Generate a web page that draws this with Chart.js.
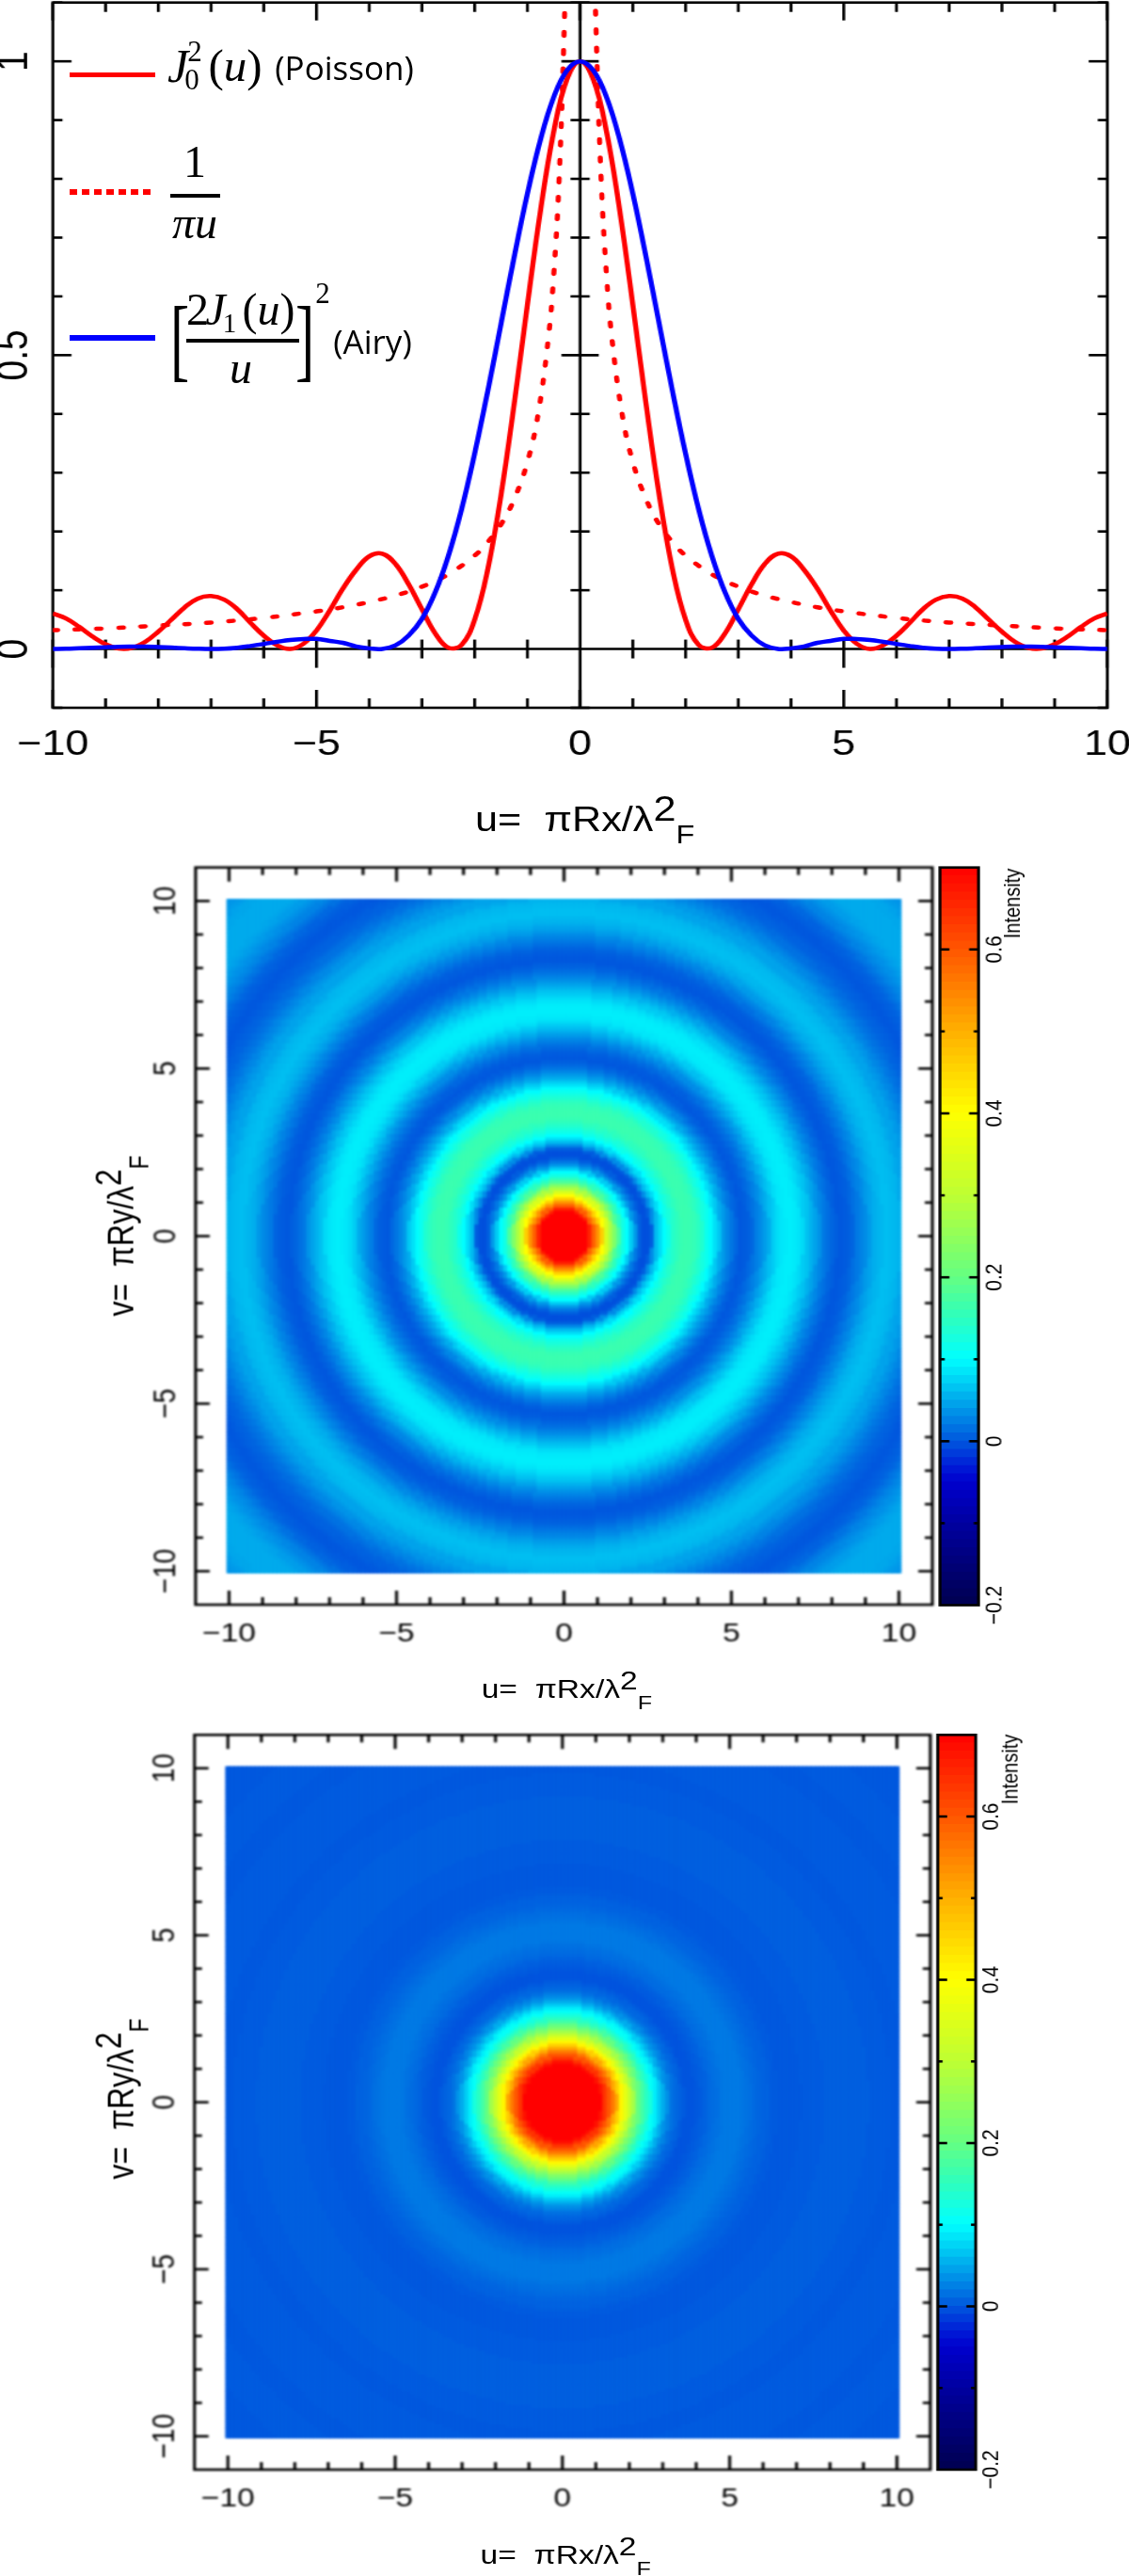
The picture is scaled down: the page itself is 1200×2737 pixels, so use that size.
<!DOCTYPE html>
<html>
<head>
<meta charset="utf-8">
<title>Poisson and Airy diffraction patterns</title>
<script src="https://cdn.jsdelivr.net/npm/chart.js@4"></script>
<style>
html,body{margin:0;padding:0;background:#fff;width:1200px;height:2737px;overflow:hidden}
#stage{position:absolute;left:0;top:0;width:1000px;height:2737px;transform:scaleX(1.2);transform-origin:0 0;overflow:visible;filter:blur(0.55px)}
#legend{position:absolute;left:0;top:0;width:1200px;height:500px;pointer-events:none;filter:blur(0.55px)}
canvas{position:absolute;display:block}
#poissonMap,#airyMap{filter:blur(0.8px)}
.t{position:absolute;white-space:pre;line-height:1;color:#000;font-family:"Liberation Sans",sans-serif}
.m{font-family:"Liberation Serif",serif}
.r{position:relative}
</style>
</head>
<body>
<div id="stage">
  <canvas id="profile"></canvas>
  <canvas id="poissonMap"></canvas>
  <canvas id="poissonBar"></canvas>
  <canvas id="airyMap"></canvas>
  <canvas id="airyBar"></canvas>
</div>
<div id="legend"></div>
<script>
// ---------- data ----------
const uGrid = [-10,-9.75,-9.5,-9.25,-9,-8.75,-8.5,-8.25,-8,-7.75,-7.5,-7.25,-7,-6.75,-6.5,-6.25,-6,-5.75,-5.5,-5.25,-5,-4.75,-4.5,-4.25,-4,-3.75,-3.5,-3.25,-3,-2.75,-2.5,-2.25,-2,-1.75,-1.5,-1.25,-1,-0.75,-0.5,-0.25,0,0.25,0.5,0.75,1,1.25,1.5,1.75,2,2.25,2.5,2.75,3,3.25,3.5,3.75,4,4.25,4.5,4.75,5,5.25,5.5,5.75,6,6.25,6.5,6.75,7,7.25,7.5,7.75,8,8.25,8.5,8.75,9,9.25,9.5,9.75,10];
const poissonCurve = [0.0605,0.0519,0.0376,0.0214,0.0082,0.0007,0.0018,0.012,0.0295,0.05,0.0709,0.0859,0.09,0.084,0.0676,0.0443,0.0227,0.0062,0,0.0087,0.0315,0.0652,0.1027,0.1344,0.1577,0.1621,0.1445,0.1097,0.0676,0.0269,0.0023,0.0068,0.0501,0.1362,0.262,0.4172,0.5855,0.7469,0.8807,0.9691,1,0.9691,0.8807,0.7469,0.5855,0.4172,0.262,0.1362,0.0501,0.0068,0.0023,0.0269,0.0676,0.1097,0.1445,0.1621,0.1577,0.1344,0.1027,0.0652,0.0315,0.0087,0,0.0062,0.0227,0.0443,0.0676,0.084,0.09,0.0859,0.0709,0.05,0.0295,0.012,0.0018,0.0007,0.0082,0.0214,0.0376,0.0519,0.0605];
const airyCurve = [0.0001,0.0004,0.0012,0.002,0.003,0.0038,0.0041,0.0042,0.0034,0.0024,0.0013,0.0004,0,0.0005,0.0022,0.0051,0.0085,0.0122,0.0154,0.0169,0.0172,0.0138,0.0105,0.0043,0.0011,0.0002,0.0062,0.0232,0.0511,0.096,0.1581,0.2372,0.3326,0.4397,0.5534,0.6675,0.7746,0.8674,0.9391,0.9845,1,0.9845,0.9391,0.8674,0.7746,0.6675,0.5534,0.4397,0.3326,0.2372,0.1581,0.096,0.0511,0.0232,0.0062,0.0002,0.0011,0.0043,0.0105,0.0138,0.0172,0.0169,0.0154,0.0122,0.0085,0.0051,0.0022,0.0005,0,0.0004,0.0013,0.0024,0.0034,0.0042,0.0041,0.0038,0.003,0.002,0.0012,0.0004,0.0001];
const dottedU = [-10,-9,-8,-7,-6,-5,-4.5,-4,-3.5,-3,-2.5,-2,-1.75,-1.5,-1.25,-1,-0.8,-0.6,-0.5,-0.4,-0.3,-0.25,null,0.25,0.3,0.4,0.5,0.6,0.8,1,1.25,1.5,1.75,2,2.5,3,3.5,4,4.5,5,6,7,8,9,10];
const dottedCurve = [0.032,0.035,0.04,0.045,0.053,0.064,0.071,0.08,0.091,0.106,0.127,0.159,0.182,0.212,0.255,0.318,0.398,0.531,0.637,0.796,1.061,1.273,null,1.273,1.061,0.796,0.637,0.531,0.398,0.318,0.255,0.212,0.182,0.159,0.127,0.106,0.091,0.08,0.071,0.064,0.053,0.045,0.04,0.035,0.032];

const profileXLabels = [-10,-5,0,5,10];
const profileYLabels = [0,0.5,1];
const mapTickLabels = [-10,-5,0,5,10];
const barTickLabels = [-0.2,0,0.2,0.4,0.6];

// intensity against radius, one value per 0.1 of radius, read along the rings of each map
const poissonRings = [1,0.98,0.95,0.91,0.87,0.83,0.78,0.72,0.66,0.59,0.53,0.46,0.4,0.34,0.28,0.23,0.18,0.15,0.12,0.1,0.07,0.04,0.02,0.003,-0.005,-0.005,0.004,0.032,0.06,0.08,0.1,0.115,0.128,0.14,0.15,0.157,0.161,0.162,0.16,0.155,0.147,0.136,0.124,0.111,0.097,0.082,0.067,0.052,0.04,0.028,0.018,0.01,0.004,0,0.001,0.004,0.009,0.015,0.023,0.032,0.042,0.052,0.062,0.071,0.079,0.085,0.088,0.09,0.09,0.088,0.084,0.078,0.071,0.063,0.054,0.045,0.036,0.027,0.019,0.013,0.007,0.003,0,0,0.001,0.004,0.008,0.013,0.019,0.025,0.032,0.039,0.046,0.052,0.056,0.059,0.061,0.061,0.06,0.058,0.055,0.05,0.045,0.045,0.04,0.035,0.03,0.025,0.02,0.015,0.011,0.008,0.005,0.003,0.001,0,0,0.001,0.003,0.006,0.01,0.015,0.02,0.025,0.03,0.034,0.038,0.042,0.045,0.047,0.049,0.05,0.05,0.05,0.05,0.049,0.048,0.047,0.045,0.043,0.04,0.038,0.036];
const airyRings = [1,0.995,0.98,0.96,0.93,0.9,0.87,0.84,0.81,0.78,0.75,0.71,0.68,0.64,0.6,0.56,0.51,0.46,0.41,0.36,0.31,0.27,0.23,0.2,0.17,0.145,0.125,0.105,0.09,0.07,0.052,0.036,0.025,0.016,0.009,0.005,0.001,-0.002,-0.003,-0.002,0,0.002,0.004,0.006,0.009,0.012,0.014,0.016,0.018,0.019,0.02,0.02,0.02,0.019,0.018,0.016,0.014,0.012,0.01,0.008,0.006,0.005,0.003,0.002,0.001,0,0,0,0,0,0,0,0.001,0.001,0.001,0.001,0.002,0.002,0.002,0.003,0.003,0.003,0.004,0.004,0.004,0.004,0.004,0.004,0.004,0.003,0.003,0.003,0.002,0.002,0.002,0.001,0.001,0.001,0.001,0,0,0,0,0,0.001,0.001,0.001,0.002,0.002,0.002,0.002,0.002,0.002,0.001,0.001,0.001,0.001,0,0,0,0,0,0,0.001,0.001,0.001,0.001,0.001,0.001,0.001,0.001,0.001,0,0,0,0,0,0,0,0,0,0,0];

// colour scale of the bars: [value, r, g, b]
const colourStops = [[-0.2,0,0,80],[-0.1,0,0,160],[-0.05,0,0,205],[-0.03,0,30,215],[0,0,88,222],[0.05,0,170,236],[0.1,0,255,255],[0.15,45,255,190],[0.2,100,255,130],[0.3,190,255,50],[0.4,255,255,0],[0.5,255,175,0],[0.6,255,85,0],[0.7,255,0,0]];

// ---------- helpers ----------
const barMin = -0.2, barMax = 0.7, levelStep = 0.01, levelCount = 90, cellStep = 0.002;
function colourAt(v){
  for(let i=1;i<colourStops.length;i++){
    if(v<=colourStops[i][0]){
      const a=colourStops[i-1],b=colourStops[i],f=(v-a[0])/(b[0]-a[0]);
      return 'rgb('+[1,2,3].map(k=>Math.round(a[k]+(b[k]-a[k])*f)).join(',')+')';
    }
  }
  return 'rgb(255,0,0)';
}
const levelColours = Array.from({length:levelCount},(_,i)=>colourAt(barMin+levelStep*(i+0.5)));
const fmt = v => String(Math.round(v*10)/10).replace('-','\u2212');
const has = (list,v) => list.some(k=>Math.abs(k-v)<1e-6);

function place(id,left,top,w,h){
  const c=document.getElementById(id);
  c.width=w;c.height=h;
  c.style.left=left+'px';c.style.top=top+'px';c.style.width=w+'px';c.style.height=h+'px';
  return c;
}

// frame and inward ticks, placed through the chart's own scales
function frameTicks(cfg){
  return {id:'frameTicks',[cfg.under?'beforeDatasetsDraw':'afterDatasetsDraw'](chart){
    const {ctx,chartArea:a,scales:{x,y}}=chart;
    ctx.save();
    ctx.strokeStyle='#000';ctx.lineWidth=cfg.lw;ctx.lineCap='butt';
    const seg=(x1,y1,x2,y2)=>{ctx.beginPath();ctx.moveTo(x1,y1);ctx.lineTo(x2,y2);ctx.stroke();};
    if(cfg.xTick){
      x.ticks.forEach(t=>{
        if(Math.abs(t.value)>cfg.xLimit+1e-6)return;
        const p=x.getPixelForValue(t.value),len=has(cfg.xMajor,t.value)?cfg.xTick[0]:cfg.xTick[1];
        seg(p,a.top,p,a.top+len);seg(p,a.bottom,p,a.bottom-len);
      });
    }
    y.ticks.forEach(t=>{
      if(t.value>cfg.yMax+1e-6||t.value<cfg.yMin-1e-6)return;
      const p=y.getPixelForValue(t.value),len=has(cfg.yMajor,t.value)?cfg.yTick[0]:cfg.yTick[1];
      seg(a.left,p,a.left+len,p);seg(a.right,p,a.right-len,p);
    });
    if(cfg.centre){
      const x0=x.getPixelForValue(0),y0=y.getPixelForValue(0);
      seg(x0,a.top,x0,a.bottom);seg(a.left,y0,a.right,y0);
      x.ticks.forEach(t=>{
        if(t.value===0)return;
        const p=x.getPixelForValue(t.value),maj=has(cfg.xMajor,t.value);
        seg(p,y0-10,p,y0+(maj?20:10));
      });
      y.ticks.forEach(t=>{
        if(Math.abs(t.value)<1e-6)return;
        const p=y.getPixelForValue(t.value),len=has(cfg.yMajor,t.value)?cfg.yTick[0]:cfg.yTick[1];
        seg(x0-len,p,x0+len,p);
      });
    }
    ctx.strokeRect(a.left,a.top,a.right-a.left,a.bottom-a.top);
    ctx.restore();
  }};
}
const font = (size)=>({family:'"Liberation Sans",sans-serif',size:size,weight:'normal'});
const fixW = w => s => { s.width=w; s.paddingTop=0; s.paddingBottom=0; };
const fixH = h => s => { s.height=h; s.paddingLeft=0; s.paddingRight=0; };

// ---------- top panel: curves ----------
const toXY=(xs,ys)=>xs.map((x,i)=>({x:x,y:ys[i]}));
place('profile',0,0,1030,850);
new Chart(document.getElementById('profile'),{
  type:'scatter',
  data:{datasets:[
    {label:'Airy',data:toXY(uGrid,airyCurve),showLine:true,pointRadius:0,borderColor:'#0000ff',borderWidth:4.5,tension:0.4},
    {label:'Poisson',data:toXY(uGrid,poissonCurve),showLine:true,pointRadius:0,borderColor:'#ff0000',borderWidth:4.5,tension:0.4},
    {label:'1/\u03c0u',data:toXY(dottedU,dottedCurve),showLine:true,pointRadius:0,borderColor:'#ff0000',borderWidth:4.5,borderDash:[4,15.5],borderCapStyle:'round',tension:0.4,spanGaps:false}
  ]},
  options:{
    responsive:false,animation:false,events:[],
    layout:{padding:{top:2.7,right:49.2,left:0,bottom:0}},
    plugins:{legend:{display:false},tooltip:{enabled:false}},
    scales:{
      x:{type:'linear',min:-10,max:10,grid:{display:false,drawTicks:false},border:{display:false},afterFit:fixH(98),
        ticks:{stepSize:1,autoSkip:false,maxRotation:0,padding:17,color:'#000',font:font(37.5),callback:v=>has(profileXLabels,v)?fmt(v):''}},
      y:{type:'linear',min:-0.1,max:1.1,grid:{display:false,drawTicks:false},border:{display:false},afterFit:fixW(46.8),
        ticks:{stepSize:0.1,autoSkip:false,minRotation:90,maxRotation:90,crossAlign:'center',padding:6,color:'#000',font:font(39),callback:v=>has(profileYLabels,v)?fmt(v):''}}
    }
  },
  plugins:[frameTicks({under:true,lw:2.6,xTick:[19,10],xMajor:profileXLabels,xLimit:10,yTick:[16.5,8.5],yMajor:profileYLabels,yMin:-0.1,yMax:1.1,centre:true})]
});

// ---------- maps ----------
function cellDatasets(rings){
  const bins=new Map();
  for(let i=-80;i<=80;i++){
    for(let j=-100;j<=100;j++){
      const x=i*0.125,y=j*0.1;
      const r=Math.min(rings.length-1,Math.round(Math.sqrt(x*x+y*y)*10));
      const v=Math.max(barMin,Math.min(barMax,rings[r]));
      const k=Math.round(v/cellStep);
      if(!bins.has(k))bins.set(k,[]);
      bins.get(k).push({x:x,y:y});
    }
  }
  const keys=Array.from(bins.keys()).sort((a,b)=>b-a);
  const layer=radius=>keys.map(k=>({data:bins.get(k),pointStyle:'rect',pointRadius:radius,pointBorderWidth:0,pointBackgroundColor:colourAt(k*cellStep),showLine:false,parsing:false,normalized:true}));
  // the exact cells lie on top of a slightly larger copy that closes the seams between them
  return layer(2.66).concat(layer(3.25));
}
function mapChart(id,rings,left,top,w,h,padTop,yW,xH,padRight){
  place(id,left,top,w,h);
  new Chart(document.getElementById(id),{
    type:'scatter',
    data:{datasets:cellDatasets(rings)},
    options:{
      responsive:false,animation:false,events:[],
      layout:{padding:{top:padTop,right:padRight,left:0,bottom:0}},
      plugins:{legend:{display:false},tooltip:{enabled:false}},
      scales:{
        x:{type:'linear',min:-11,max:11,grid:{display:false,drawTicks:false},border:{display:false},afterFit:fixH(xH),
          ticks:{stepSize:1,autoSkip:false,maxRotation:0,padding:14,color:'#000',font:font(28),callback:v=>has(mapTickLabels,v)?fmt(v):''}},
        y:{type:'linear',min:-11,max:11,grid:{display:false,drawTicks:false},border:{display:false},afterFit:fixW(yW),
          ticks:{stepSize:1,autoSkip:false,minRotation:90,maxRotation:90,crossAlign:'center',padding:2.5,color:'#000',font:font(28),callback:v=>has(mapTickLabels,v)?fmt(v):''}}
      }
    },
    plugins:[frameTicks({lw:2.6,xTick:[15,8],xMajor:mapTickLabels,xLimit:10,yTick:[12.5,6.7],yMajor:mapTickLabels,yMin:-10,yMax:10})]
  });
}
mapChart('poissonMap',poissonRings,0,900,880,900,21.7,173.2,95,54.2);
mapChart('airyMap',airyRings,0,1820,880,900,23.3,172.2,96,56);

// ---------- colour bars ----------
function barChart(id,left,top,w,h,padL,padT,padB,axisW){
  place(id,left,top,w,h);
  new Chart(document.getElementById(id),{
    type:'bar',
    data:{labels:['Intensity'],datasets:levelColours.map((c,i)=>({
      data:[[barMin+i*levelStep,barMin+(i+1)*levelStep]],backgroundColor:c,borderWidth:0,grouped:false,
      barPercentage:1,categoryPercentage:1,inflateAmount:0.6}))},
    options:{
      responsive:false,animation:false,events:[],
      layout:{padding:{left:padL,top:padT,bottom:padB,right:0}},
      plugins:{legend:{display:false},tooltip:{enabled:false}},
      scales:{
        x:{display:false},
        y:{position:'right',type:'linear',min:-0.2,max:0.7,grid:{display:false,drawTicks:false},border:{display:false},afterFit:fixW(axisW),
          ticks:{stepSize:0.1,autoSkip:false,minRotation:90,maxRotation:90,crossAlign:'center',padding:-6.5,color:'#000',font:font(21),callback:v=>has(barTickLabels,v)?fmt(v):''}}
      }
    },
    plugins:[frameTicks({lw:2.6,yTick:[8.3,4.2],yMajor:[0,0.2,0.4,0.6],yMin:-0.15,yMax:0.65})]
  });
}
barChart('poissonBar',820,900,180,900,12.5,21.7,94.5,133.3);
barChart('airyBar',820,1820,180,900,10.6,23.3,96,135.8);

// ---------- axis titles (stretched layer) ----------
const stage=document.getElementById('stage');
function xTitle(cx,baseY,F,Fs,up,down){
  const d=document.createElement('div');d.className='t';
  d.style.cssText='left:'+cx+'px;top:'+(baseY-0.847*F)+'px;font-size:'+F+'px;transform:translateX(-50%)';
  d.innerHTML='u=  \u03c0Rx/\u03bb<span class="r" style="top:-'+up+'px">2</span><span class="r" style="top:'+down+'px;font-size:'+Fs+'px">F</span>';
  stage.appendChild(d);
}
function yTitle(cx,cy,F,Fs,up,down){
  const d=document.createElement('div');d.className='t';
  d.style.cssText='left:'+cx+'px;top:'+cy+'px;font-size:'+F+'px;transform:translate(-50%,-50%) rotate(-90deg)';
  d.innerHTML='v=  \u03c0Ry/\u03bb<span class="r" style="top:-'+up+'px">2</span><span class="r" style="top:'+down+'px;font-size:'+Fs+'px">F</span>';
  stage.appendChild(d);
}
function rotText(txt,cx,cy,F){
  const d=document.createElement('div');d.className='t';d.textContent=txt;
  d.style.cssText='left:'+cx+'px;top:'+cy+'px;font-size:'+F+'px;transform:translate(-50%,-50%) rotate(-90deg)';
  stage.appendChild(d);
}
xTitle(518,883,36,27,11,13);
xTitle(502,1805,28,21,9,12);
xTitle(501,2725,28,21,9,12);
yTitle(107,1313,32,24,11,13);
yTitle(107,2230,32,24,11,13);
rotText('Intensity',895.5,960,20);
rotText('Intensity',894,1880,20);

// ---------- legend (not stretched) ----------
const lg=document.getElementById('legend');
function L(html,x,cy,size,cls,extra){
  const d=document.createElement('div');d.className='t '+(cls||'');
  d.style.cssText='left:'+x+'px;top:'+cy+'px;font-size:'+size+'px;transform:translate(-50%,-50%)'+(extra?';'+extra:'');
  d.innerHTML=html;lg.appendChild(d);
}
function box(x,y,w,h,bg){
  const d=document.createElement('div');
  d.style.cssText='position:absolute;left:'+x+'px;top:'+y+'px;width:'+w+'px;height:'+h+'px;background:'+bg;
  lg.appendChild(d);
}
box(74,76.5,90.5,5.5,'#ff0000');
box(74,201,90.5,5.5,'repeating-linear-gradient(90deg,#ff0000 0 8px,transparent 8px 13px)');
box(74,356,90.5,5.5,'#0000ff');
// J0^2(u)
L('<i>J</i>',189,70,50,'m');
L('2',207,54,31,'m');
L('0',204,84,31,'m');
L('(<i>u</i>)',250,69,49,'m');
L('(Poisson)',366,71,35,'', 'font-family:"Open Sans",sans-serif');
// 1 / pi u
L('1',207,172,48,'m');
box(181,206,53,4,'#000');
L('<i>\u03c0u</i>',207,237,48,'m');
// [2J1(u)/u]^2
L('[',191,360,98,'m','transform:translate(-50%,-50%) scaleX(0.62)');
L('2',210,329,48,'m');
L('<i>J</i>',229,329,48,'m');
L('1',244,343,29,'m');
L('(<i>u</i>)',285.5,329,48,'m');
box(198,360,120,4,'#000');
L('<i>u</i>',256,391,48,'m');
L(']',324,360,98,'m','transform:translate(-50%,-50%) scaleX(0.62)');
L('2',343,311,31,'m');
L('(Airy)',396,362,35,'', 'font-family:"Open Sans",sans-serif');
</script>
</body>
</html>
